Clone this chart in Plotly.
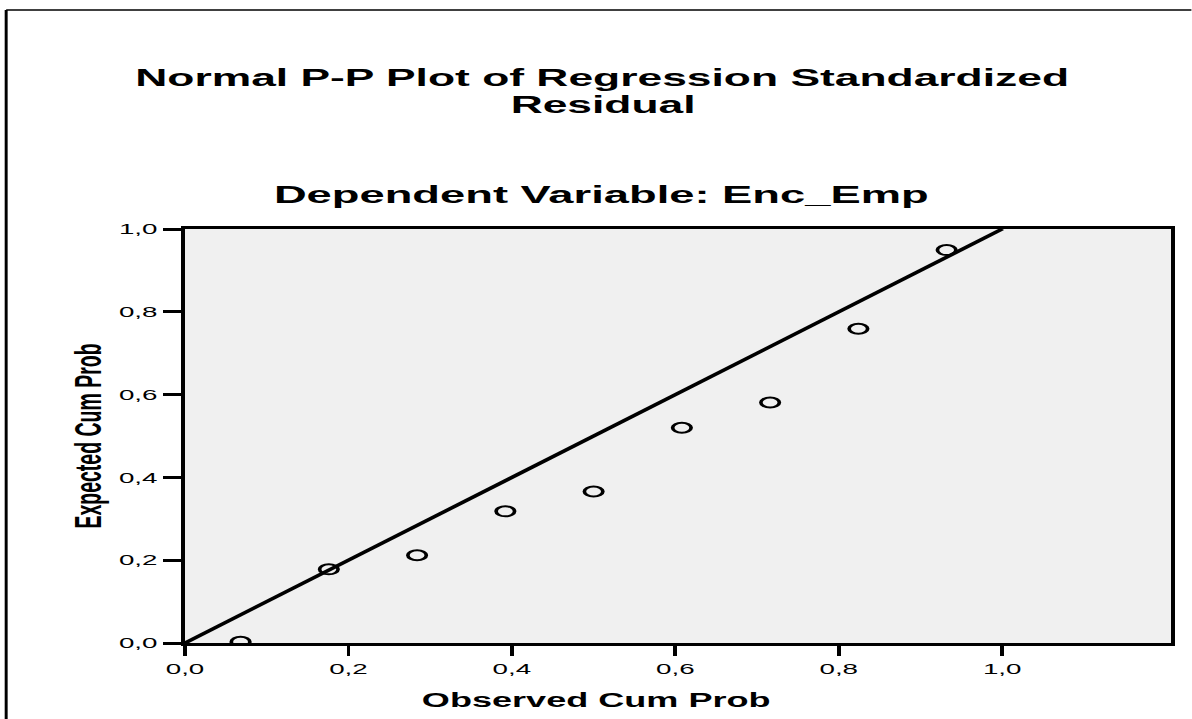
import plotly.graph_objects as go

# Normal P-P plot data (observed vs expected cumulative probability)
observed_cum_prob = [0.068, 0.176, 0.284, 0.392, 0.500, 0.608, 0.716, 0.824, 0.932]
expected_cum_prob = [0.003, 0.178, 0.212, 0.318, 0.366, 0.520, 0.581, 0.759, 0.949]

# Identity reference line
reference_x = [0.0, 1.0]
reference_y = [0.0, 1.0]

tick_values = [0.0, 0.2, 0.4, 0.6, 0.8, 1.0]
tick_labels = ["0,0", "0,2", "0,4", "0,6", "0,8", "1,0"]

# The chart is laid out narrow and then stretched horizontally on the page
STRETCH = 1.85
W, H = 644, 719
L, R, T, B = 100, 10.5, 229, 76
PW, PH = W - L - R, H - T - B


def paper_x(px):
    """Page x pixel (after stretch) -> paper fraction."""
    return (px / STRETCH - L) / PW


def paper_y(py):
    """Page y pixel -> paper fraction."""
    return (H - B - py) / PH


FONT = "Liberation Sans, Arial, Helvetica, sans-serif"

fig = go.Figure()

fig.add_trace(go.Scatter(
    x=reference_x, y=reference_y, mode="lines",
    line=dict(color="black", width=3),
    hoverinfo="skip", showlegend=False,
))

fig.add_trace(go.Scatter(
    x=observed_cum_prob, y=expected_cum_prob, mode="markers",
    marker=dict(symbol="circle-open", size=10, color="black",
                line=dict(color="black", width=2)),
    cliponaxis=True, showlegend=False,
))

fig.update_layout(
    width=W, height=H,
    margin=dict(l=L, r=R, t=T, b=B),
    paper_bgcolor="white",
    plot_bgcolor="#F0F0F0",
    showlegend=False,
    font=dict(family=FONT, color="black"),
)

fig.update_xaxes(
    range=[0, 1.2066], showgrid=False, zeroline=False,
    showline=True, linecolor="black", linewidth=2.6, mirror=True,
    ticks="outside", ticklen=10, tickwidth=1.7, tickcolor="black",
    tickvals=tick_values, ticktext=tick_labels,
    tickfont=dict(family=FONT, size=15, color="black"),
)
fig.update_yaxes(
    range=[0, 1.0], showgrid=False, zeroline=False,
    showline=True, linecolor="black", linewidth=1.7, mirror=True,
    ticks="outside", ticklen=10, tickwidth=3, tickcolor="black",
    tickvals=tick_values, ticktext=tick_labels,
    tickfont=dict(family=FONT, size=15, color="black"),
)

title_font = dict(family=FONT, size=24, color="black", weight="bold")
axis_title_font = dict(family=FONT, size=19.5, color="black", weight="bold")

annotations = [
    dict(text="Normal P-P Plot of Regression Standardized",
         x=paper_x(603), y=paper_y(78), font=title_font),
    dict(text="Residual",
         x=paper_x(603), y=paper_y(104.5), font=title_font),
    dict(text="Dependent Variable: Enc_Emp",
         x=paper_x(601), y=paper_y(194),
         font=dict(family=FONT, size=24.5, color="black", weight="bold")),
    dict(text="Observed Cum Prob",
         x=paper_x(597), y=paper_y(700), font=axis_title_font),
    dict(text="Expected Cum Prob", textangle=-90,
         x=paper_x(88), y=0.5, font=axis_title_font),
]
for a in annotations:
    fig.add_annotation(xref="paper", yref="paper", showarrow=False,
                       xanchor="center", yanchor="middle", **a)

# Outer frame: left and top edges of the chart border
frame = dict(color="black", width=1.6)
fig.add_shape(type="line", xref="paper", yref="paper",
              x0=paper_x(6), x1=paper_x(6), y0=paper_y(10), y1=paper_y(760),
              line=frame, layer="above")
fig.add_shape(type="line", xref="paper", yref="paper",
              x0=paper_x(6), x1=paper_x(1250), y0=paper_y(10), y1=paper_y(10),
              line=frame, layer="above")

post = (
    "var gd = document.getElementById('{plot_id}');"
    "document.body.style.margin = '0';"
    "document.body.style.overflow = 'hidden';"
    "gd.style.transformOrigin = '0 0';"
    f"gd.style.transform = 'scaleX({STRETCH})';"
)

fig.write_html("out.html", post_script=post, config={"displayModeBar": False})
